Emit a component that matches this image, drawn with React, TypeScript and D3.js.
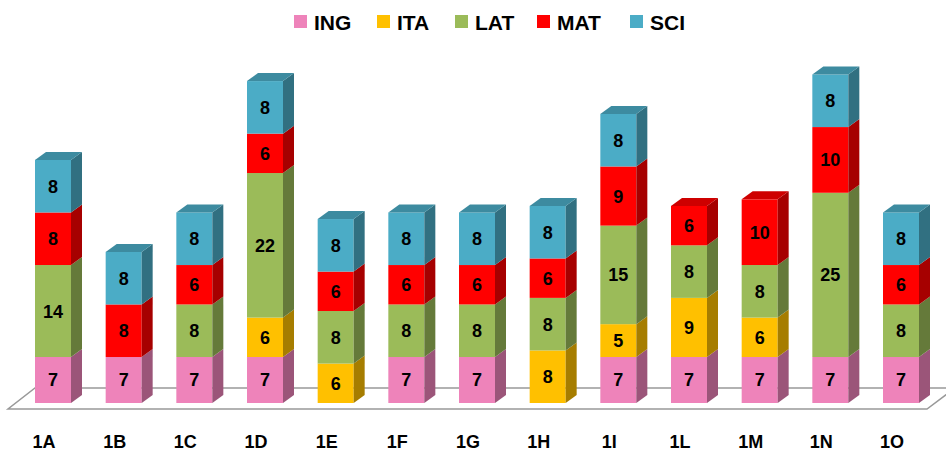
import React from 'react';
import * as d3 from 'd3';

const classes = ['1A', '1B', '1C', '1D', '1E', '1F', '1G', '1H', '1I', '1L', '1M', '1N', '1O'];
const subjects = ['ING', 'ITA', 'LAT', 'MAT', 'SCI'];
const ing = [7, 7, 7, 7, 0, 7, 7, 0, 7, 7, 7, 7, 7];
const ita = [0, 0, 0, 6, 6, 0, 0, 8, 5, 9, 6, 0, 0];
const lat = [14, 0, 8, 22, 8, 8, 8, 8, 15, 8, 8, 25, 8];
const mat = [8, 8, 6, 6, 6, 6, 6, 6, 9, 6, 10, 10, 6];
const sci = [8, 8, 8, 8, 8, 8, 8, 8, 8, 0, 0, 8, 8];

const colors = {ING: '#EE83BA', ITA: '#FFC000', LAT: '#9BBB59', MAT: '#FF0000', SCI: '#4BACC6'};

const App = () => {
    const width = 946;
    const height = 454;
    const font = '"Liberation Sans", Arial, sans-serif';

    // depth of the 3d boxes
    const dx = 11;
    const dy = 8;
    const barW = 36;

    const rows = classes.map((c, i) => ({
        cls: c, ING: ing[i], ITA: ita[i], LAT: lat[i], MAT: mat[i], SCI: sci[i],
    }));
    const series = d3.stack().keys(subjects)(rows);

    const x = d3.scalePoint().domain(classes).range([53, 901]);
    const y = d3.scaleLinear().domain([0, 50]).range([403, 74.5]);

    const side = (c) => d3.color(c).darker(1.2).formatHex();
    const top = (c) => d3.color(c).darker(0.6).formatHex();

    // floor
    const floorPts = [[8, 409], [927, 409], [955, 388], [35, 388]];

    const bars = classes.map((c, i) => {
        const cx = x(c);
        const x0 = cx - barW / 2;
        const x1 = cx + barW / 2;
        const segs = series
            .map((s) => ({key: s.key, y0: s[i][0], y1: s[i][1]}))
            .filter((d) => d.y1 - d.y0 > 0);
        const last = segs[segs.length - 1];
        return (
            <g key={c}>
                {segs.map((d) => {
                    const col = colors[d.key];
                    const yb = y(d.y0);
                    const yt = y(d.y1);
                    return (
                        <g key={d.key}>
                            <rect x={x0} y={yt} width={barW} height={yb - yt} fill={col} />
                            <polygon
                                points={`${x1},${yb} ${x1 + dx},${yb - dy} ${x1 + dx},${yt - dy} ${x1},${yt}`}
                                fill={side(col)}
                            />
                            <text
                                x={cx}
                                y={(yb + yt) / 2}
                                dy="0.36em"
                                textAnchor="middle"
                                fontFamily={font}
                                fontWeight="bold"
                                fontSize={18}
                                fill="#000"
                            >
                                {d.y1 - d.y0}
                            </text>
                        </g>
                    );
                })}
                <polygon
                    points={`${x0},${y(last.y1)} ${x1},${y(last.y1)} ${x1 + dx},${y(last.y1) - dy} ${x0 + dx},${y(last.y1) - dy}`}
                    fill={top(colors[last.key])}
                />
                <text
                    x={cx - 9}
                    y={448}
                    textAnchor="middle"
                    fontFamily={font}
                    fontWeight="bold"
                    fontSize={18}
                    fill="#000"
                >
                    {c}
                </text>
            </g>
        );
    });

    const legendX = [294, 377, 455, 537, 630];

    return (
        <svg width={width} height={height} style={{position: 'absolute', left: 0, top: 0, background: '#fff'}}>
            <polygon points={floorPts.map((p) => p.join(',')).join(' ')} fill="#fff" stroke="#999" strokeWidth={1.5} />
            {bars}
            {subjects.map((s, i) => (
                <g key={s} transform={`translate(${legendX[i]},15)`}>
                    <rect x={0} y={0} width={13} height={13} fill={colors[s]} />
                    <text x={20} y={15} fontFamily={font} fontWeight="bold" fontSize={21} fill="#000">
                        {s}
                    </text>
                </g>
            ))}
        </svg>
    );
};

export default App;
